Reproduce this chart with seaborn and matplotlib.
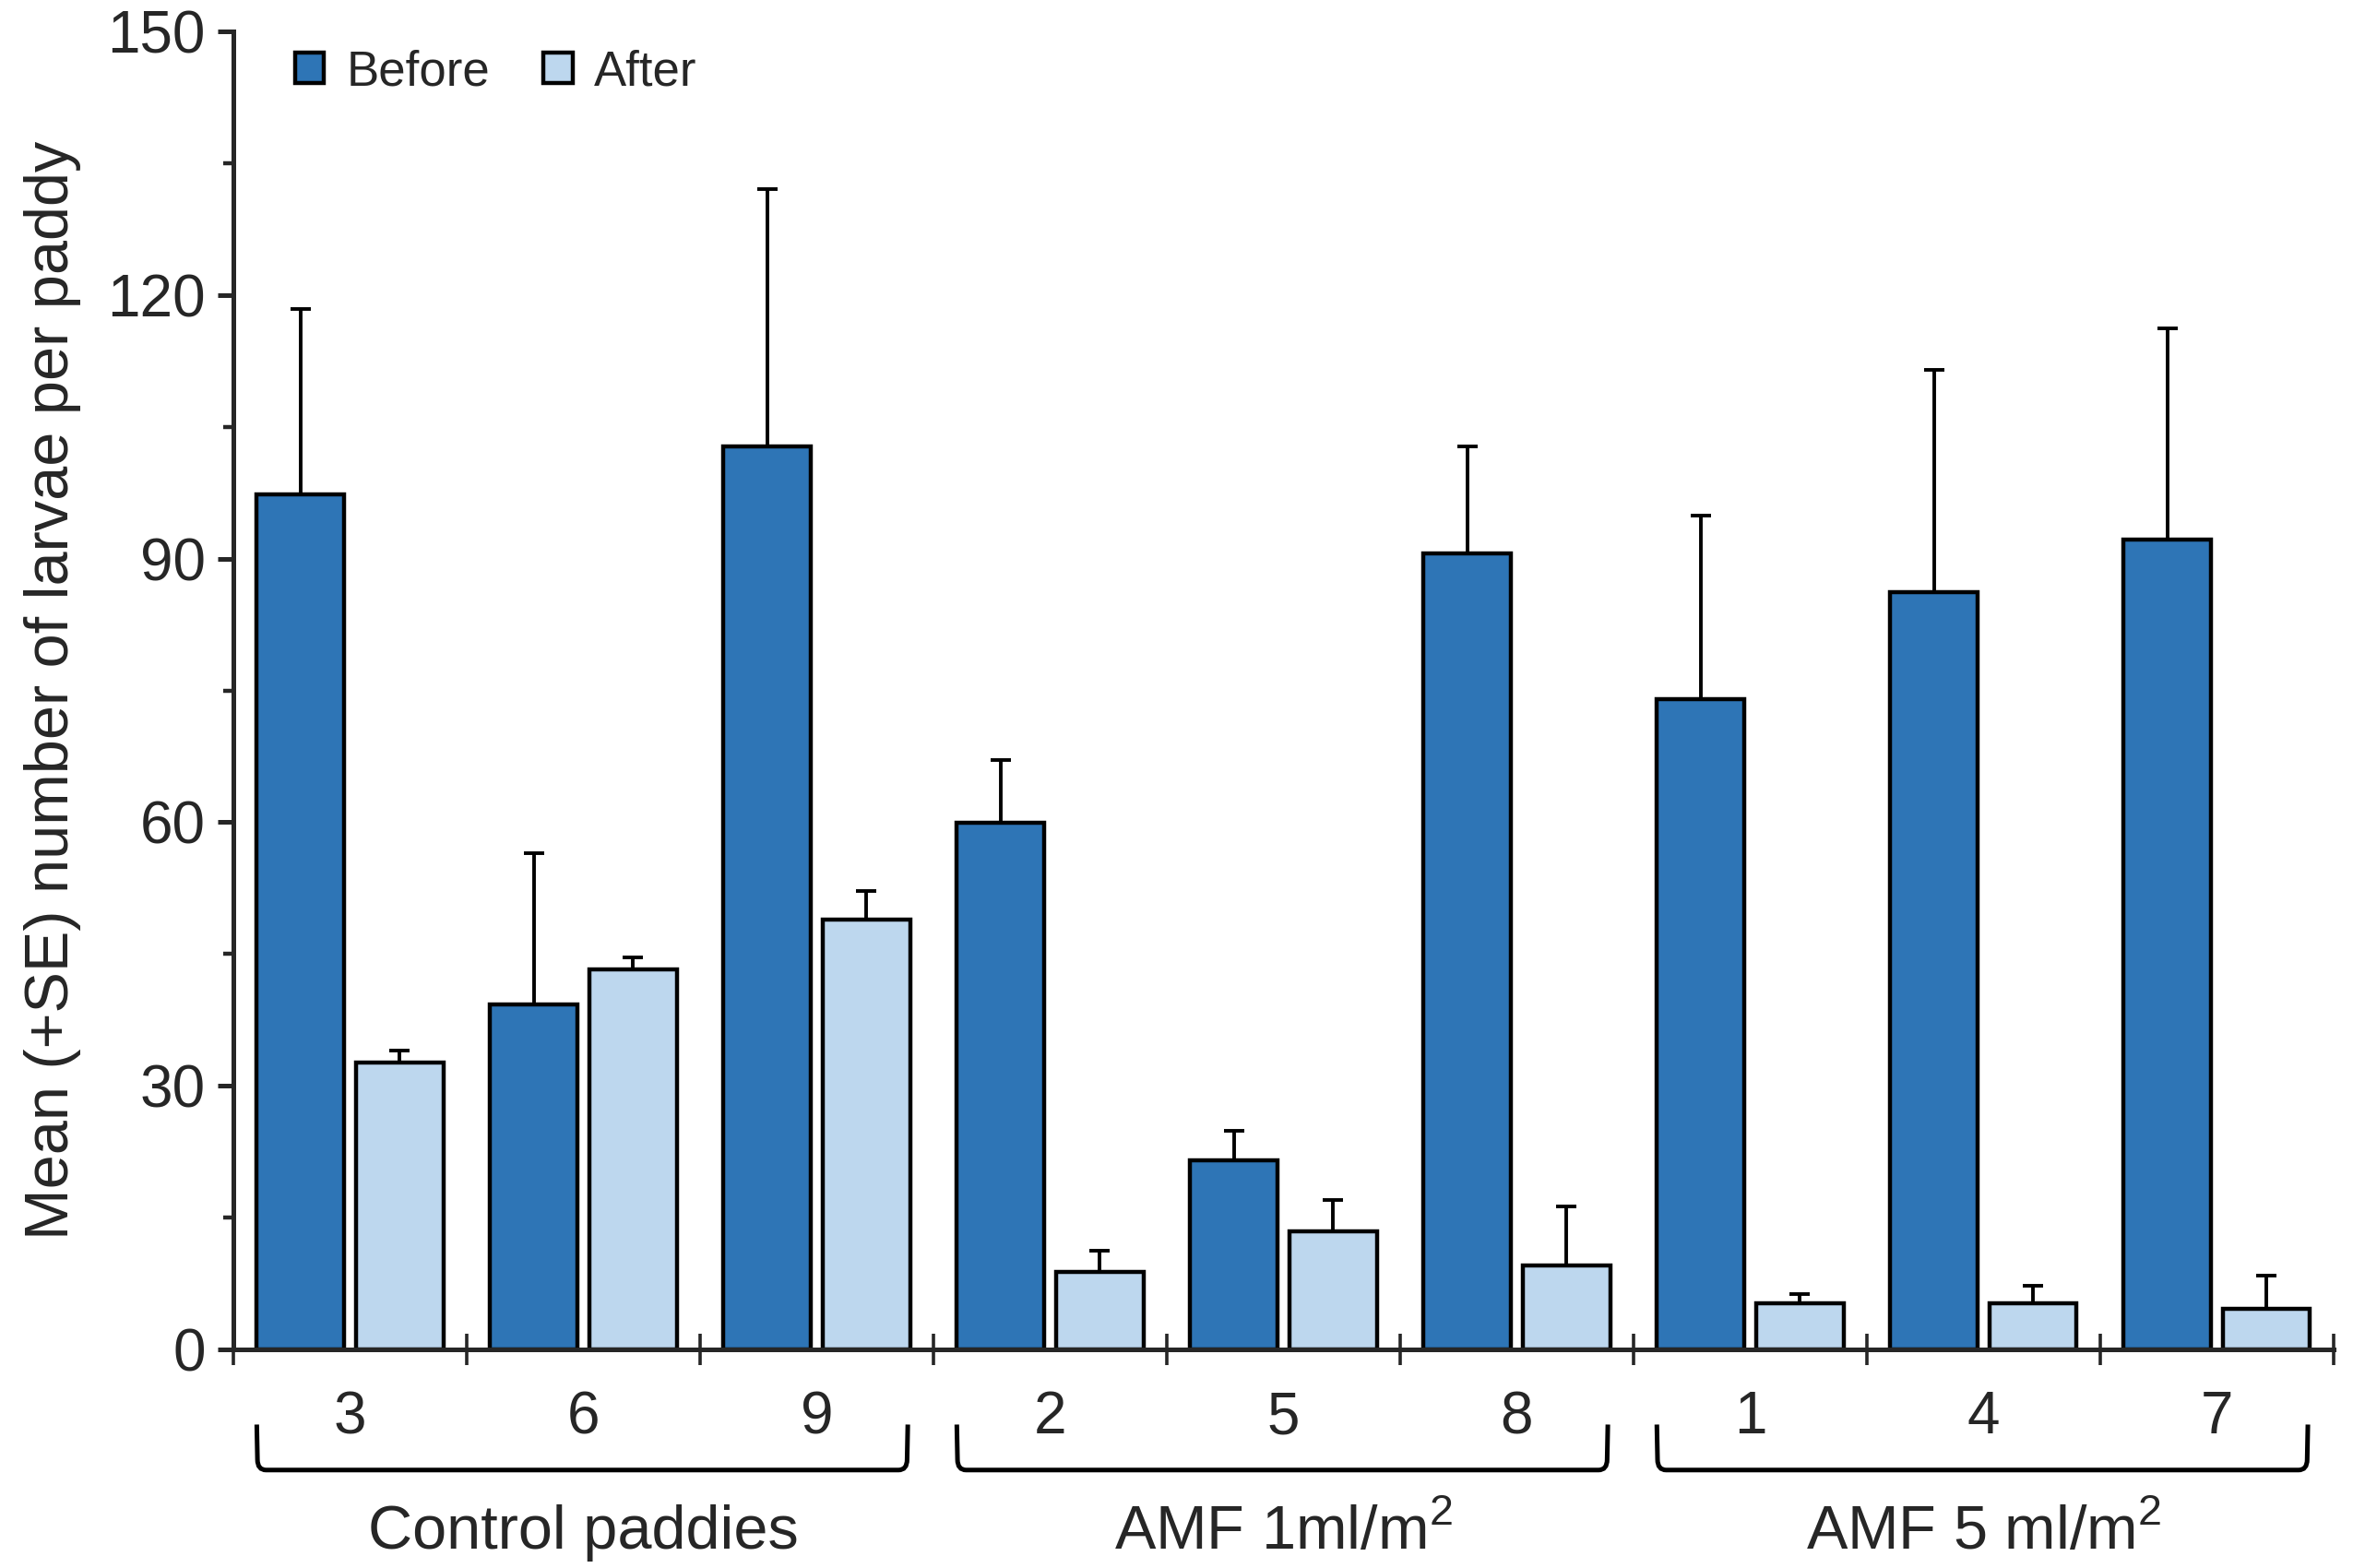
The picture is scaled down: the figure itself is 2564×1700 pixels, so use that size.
import pandas as pd
import matplotlib.pyplot as plt
import seaborn as sns
import numpy as np
from matplotlib.path import Path
from matplotlib.patches import PathPatch, Patch
from matplotlib.ticker import FixedLocator, MultipleLocator
import matplotlib.transforms as mtransforms

# values
paddies = ['3', '6', '9', '2', '5', '8', '1', '4', '7']
groups = ['Control paddies', 'AMF 1ml/m$^{2}$', 'AMF 5 ml/m$^{2}$']
before_mean = [97.3, 39.3, 102.8, 59.9, 21.5, 90.6, 74.0, 86.2, 92.2]
before_se = [21.1, 17.2, 29.2, 7.2, 3.4, 12.2, 20.9, 25.3, 24.0]
after_mean = [32.6, 43.2, 48.9, 8.8, 13.4, 9.6, 5.3, 5.3, 4.6]
after_se = [1.4, 1.4, 3.3, 2.4, 3.6, 6.7, 1.0, 1.9, 3.8]
periods = ['Before', 'After']
colors = ['#2E75B6', '#BDD7EE']


def build_frame():
    df = pd.DataFrame({
        'paddy': paddies * 2,
        'period': ['Before'] * len(paddies) + ['After'] * len(paddies),
        'mean': before_mean + after_mean,
    })
    return df


def draw_chart(df):
    sns.set_style('ticks')
    plt.rcParams['font.family'] = ['Liberation Sans', 'DejaVu Sans']
    plt.rcParams['mathtext.fontset'] = 'custom'
    plt.rcParams['mathtext.rm'] = 'Liberation Sans'

    fig = plt.figure(figsize=(12.82, 8.5), dpi=200)
    ax = fig.add_axes([0.0987, 0.1394, 0.888, 0.8406])

    sns.barplot(data=df, x='paddy', y='mean', hue='period', order=paddies,
                hue_order=periods, palette=colors, saturation=1,
                edgecolor='black', linewidth=1.6, width=0.85, gap=0.12,
                errorbar=None, legend=False, ax=ax)

    # one-sided SE bars
    for container, se in zip(ax.containers, [before_se, after_se]):
        xs = [b.get_x() + b.get_width() / 2 for b in container]
        hs = [b.get_height() for b in container]
        ax.errorbar(xs, hs, yerr=[np.zeros(len(se)), se], fmt='none',
                    ecolor='black', elinewidth=1.4, capsize=4,
                    capthick=1.4, zorder=1)

    ax.set_xlim(-0.5, len(paddies) - 0.5)
    ax.set_ylim(0, 150)
    ax.yaxis.set_major_locator(MultipleLocator(30))
    ax.yaxis.set_minor_locator(MultipleLocator(15))
    ax.tick_params(axis='y', which='major', labelsize=23, length=6,
                   width=1.8, direction='out', pad=5)
    ax.tick_params(axis='y', which='minor', length=4, width=1.6,
                   direction='out')

    ax.xaxis.set_minor_locator(FixedLocator(np.arange(-0.5, len(paddies), 1)))
    ax.tick_params(axis='x', which='major', length=0, labelsize=23, pad=16)
    ax.tick_params(axis='x', which='minor', length=12, width=1.3,
                   direction='inout')

    for s in ['top', 'right']:
        ax.spines[s].set_visible(False)
    for s in ['left', 'bottom']:
        ax.spines[s].set_linewidth(1.8)

    ax.set_xlabel('')
    ax.set_ylabel('Mean (+SE) number of larvae per paddy', fontsize=24,
                  labelpad=10)

    # group brackets under the paddy numbers
    trans = mtransforms.blended_transform_factory(ax.transData, ax.transAxes)
    y_top, y_bot, r = -0.057, -0.0915, 0.008
    for g, name in enumerate(groups):
        x0 = g * 3 - 0.40
        x1 = g * 3 + 2.39
        verts = [(x0, y_top), (x0 + 0.003, y_bot + r), (x0 + 0.003, y_bot),
                 (x0 + 0.04, y_bot), (x1 - 0.04, y_bot), (x1 - 0.003, y_bot),
                 (x1 - 0.003, y_bot + r), (x1, y_top)]
        codes = [Path.MOVETO, Path.LINETO, Path.CURVE3, Path.CURVE3,
                 Path.LINETO, Path.CURVE3, Path.CURVE3, Path.LINETO]
        ax.add_patch(PathPatch(Path(verts, codes), fill=False, lw=1.8,
                               edgecolor='black', transform=trans,
                               clip_on=False))
        ax.text(g * 3 + 1, -0.139, name, transform=trans, ha='center',
                va='center', fontsize=24)

    handles = [Patch(facecolor=c, edgecolor='black', linewidth=1.6)
               for c in colors]
    ax.legend(handles, periods, loc='center left',
              bbox_to_anchor=(0.02, 0.969), ncol=2, frameon=False,
              fontsize=19, handlelength=0.6, handleheight=0.6,
              handletextpad=0.45, columnspacing=1.1, borderaxespad=0)

    fig.savefig('out.png', dpi=200)


if __name__ == "__main__":
    df = build_frame()
    draw_chart(df)
